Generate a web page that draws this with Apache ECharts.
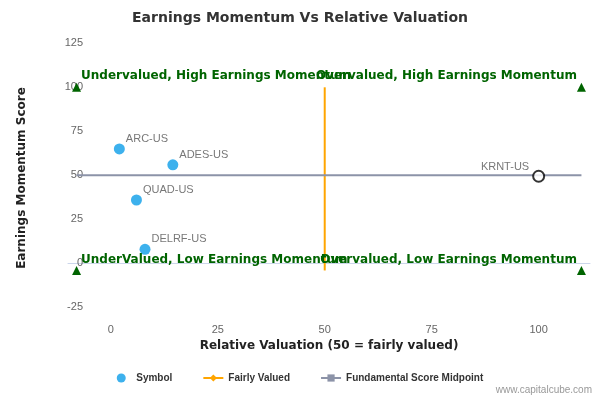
<!DOCTYPE html>
<html><head><meta charset="utf-8">
<script src="https://cdn.jsdelivr.net/npm/echarts@6/dist/echarts.min.js"></script>
</head><body style="margin:0">
<div id="c" style="width:600px;height:400px"></div>
<script>
const symbols = ['ARC-US','ADES-US','QUAD-US','DELRF-US'];
const relVal = [2, 14.5, 6, 8];
const momentum = [65, 56, 36, 8];
const highlight = {name:'KRNT-US', x:100, y:49.5};
const xTicks = [0,25,50,75,100];
const yTicks = [-25,0,25,50,75,100,125];
const fairLine = [[50,-4],[50,100]];
const midLine = [[-8,50],[110,50]];
const corners = [
  {name:'Undervalued, High Earnings Momentum', value:[-8,100], side:'L'},
  {name:'Overvalued, High Earnings Momentum', value:[110,100], side:'R'},
  {name:'UnderValued, Low Earnings Momentum', value:[-8,-4], side:'L'},
  {name:'Overvalued, Low Earnings Momentum', value:[110,-4], side:'R'}
];
const green = '#006400';
const chart = echarts.init(document.getElementById('c'));
chart.setOption({
  animation:false,
  title:{text:'Earnings Momentum Vs Relative Valuation',left:'center',top:6,textStyle:{fontSize:14,fontWeight:'bold',color:'#333',fontFamily:'DejaVu Sans'}},
  grid:{left:68,right:10,top:38,bottom:82},
  xAxis:{type:'value',min:-10,max:112,name:'Relative Valuation (50 = fairly valued)',nameLocation:'middle',nameGap:22,
    nameTextStyle:{fontSize:12,fontWeight:'bold',color:'#222',fontFamily:'DejaVu Sans'},
    axisLine:{lineStyle:{color:'#ccd6eb'}},axisTick:{show:false},splitLine:{show:false},
    axisLabel:{customValues:xTicks,color:'#666',fontSize:11,margin:6}},
  yAxis:{type:'value',min:-31,max:128,name:'Earnings Momentum Score',nameLocation:'middle',nameGap:40,
    nameTextStyle:{fontSize:12,fontWeight:'bold',color:'#222',fontFamily:'DejaVu Sans'},
    axisLine:{show:false},axisTick:{show:false},splitLine:{show:false},
    axisLabel:{customValues:yTicks,color:'#666',fontSize:11,margin:-15}},
  legend:{bottom:12,left:'center',itemGap:30,itemWidth:20,itemHeight:9,textStyle:{fontSize:10,fontWeight:'bold',color:'#333'},
    data:[{name:'Symbol',icon:'circle'},{name:'Fairly Valued'},{name:'Fundamental Score Midpoint'}]},
  graphic:[{type:'text',right:8,bottom:5,style:{text:'www.capitalcube.com',fill:'#999',fontSize:10}}],
  series:[
    {name:'Symbol',type:'scatter',symbolSize:11,itemStyle:{color:'#0d9ee8'},
     data:symbols.map((s,i)=>({name:s,value:[relVal[i],momentum[i]]})),
     label:{show:true,formatter:'{b}',position:'right',offset:[-4,-10],color:'#555',fontSize:11}},
    {name:'KRNT',type:'scatter',symbolSize:11,itemStyle:{color:'#fff',borderColor:'#000',borderWidth:2},
     data:[{name:highlight.name,value:[highlight.x,highlight.y]}],z:5,
     label:{show:true,formatter:'{b}',position:'left',offset:[2,-9],color:'#555',fontSize:11}},
    {name:'Fairly Valued',type:'line',data:fairLine,symbol:'diamond',showSymbol:false,
     lineStyle:{color:'orange',width:2},itemStyle:{color:'orange'}},
    {name:'Fundamental Score Midpoint',type:'line',data:midLine,symbol:'rect',showSymbol:false,
     lineStyle:{color:'#8c93a8',width:2},itemStyle:{color:'#8c93a8'}},
    {name:'corners',type:'scatter',symbol:'triangle',symbolSize:9,itemStyle:{color:green,opacity:1},z:6,
     data:corners.map(c=>({name:c.name,value:c.value,label:c.side==='L'
       ?{position:'right',offset:[-5,-11]}:{position:'left',offset:[5,-11]}})),
     label:{show:true,formatter:'{b}',color:green,fontSize:12,fontWeight:'bold',fontFamily:'DejaVu Sans'}}
  ]
});
</script></body></html>
